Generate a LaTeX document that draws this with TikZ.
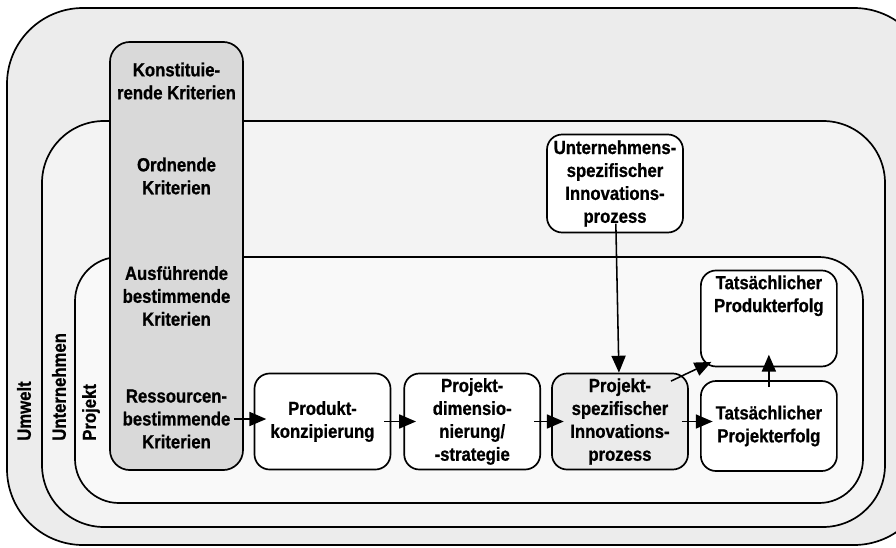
\documentclass[tikz,border=0pt]{standalone}
\usepackage{fontspec}
\setmainfont{Liberation Sans}
\newfontfamily\diafont{Liberation Sans Bold}[FakeStretch=0.88, FakeBold=0.8]
\usepackage{xcolor}
\usetikzlibrary{arrows.meta,positioning}
\definecolor{umweltgray}{RGB}{236,236,236}
\definecolor{untgray}{RGB}{243,243,243}
\definecolor{projgray}{RGB}{249,249,249}
\definecolor{critgray}{RGB}{217,217,217}
\definecolor{procgray}{RGB}{235,235,235}

\begin{document}
\begin{tikzpicture}[
  x=0.025cm, y=-0.025cm,
  every node/.style={font=\diafont\fontsize{13.5}{16.3}\selectfont},
  frame/.style={draw, line width=1.2pt},
  box/.style={draw, line width=1.2pt, rounded corners=0.38cm, fill=white,
    minimum width=3.4cm, minimum height=2.4cm, align=center, inner sep=2pt},
  crit/.style={align=center},
  layer/.style={rotate=90, anchor=west, inner sep=0pt},
  arr/.style={-{Triangle[length=12pt, width=10pt]}, line width=1.1pt,
    shorten <=-5pt, shorten >=-9pt}
]
\clip (0,0) rectangle (896,547);
\fill[white] (0,0) rectangle (896,547);

% Umwelt, Unternehmen, Projekt
\draw[frame, fill=umweltgray, rounded corners=1.9cm] (7,8) rectangle (930,545);
\draw[frame, fill=untgray, rounded corners=1.55cm] (42,121) rectangle (885,527);
\draw[frame, fill=projgray, rounded corners=1.1cm] (75,257) rectangle (863,503);

\node[layer] (umwelt) at (24,441) {Umwelt};
\node[layer] (unternehmen) at (59,441) {Unternehmen};
\node[layer] (projekt) at (91,441) {Projekt};

% Kriterien
\node[draw, line width=1.2pt, rounded corners=0.5cm, fill=critgray,
  minimum width=3.325cm, minimum height=10.7cm, inner sep=0pt] (kriterien) at (176.5,256) {};
\node[crit] (konst) at (176.5,81) {Konstituie-\\rende Kriterien};
\node[crit] (ordn) at (176.5,176) {Ordnende\\Kriterien};
\node[crit] (ausf) at (176.5,296) {Ausführende\\bestimmende\\Kriterien};
\node[crit] (ress) at (176.5,419) {Ressourcen-\\bestimmende\\Kriterien};

% Prozess
\node[box] (produkt) at (322.5,421.5) {Produkt-\\konzipierung};
\node[box, right=0.3cm of produkt] (dimension) {Projekt-\\dimensio-\\nierung/\\-strategie};
\node[box, fill=procgray, right=0.25cm of dimension] (projinno) {Projekt-\\spezifischer\\Innovations-\\prozess};
\node[box, minimum height=2.25cm, right=0.28cm of projinno, yshift=-3.2pt] (projerfolg) {Tatsächlicher\\Projekterfolg};
\node[box, above=0.32cm of projerfolg] (proderfolg) {Tatsächlicher\\Produkterfolg\\[1.4em]};
\node[box, minimum height=2.45cm] (untinno) at (615,183.5) {Unternehmens-\\spezifischer\\Innovations-\\prozess};

\draw[arr, shorten <=-1pt] (ress.east) -- (produkt.west |- ress.east);
\draw[arr] (produkt) -- (dimension);
\draw[arr] (dimension.east) -- (projinno.west |- dimension.east);
\draw[arr] (projinno.east) -- (projerfolg.west |- projinno.east);
\draw[arr, shorten <=-14pt] (projinno.north east) -- (proderfolg.south west);
\draw[arr] (projerfolg) -- (proderfolg);
\draw[arr, shorten <=-7pt, shorten >=0pt] (untinno) -- (projinno);
\end{tikzpicture}
\end{document}
